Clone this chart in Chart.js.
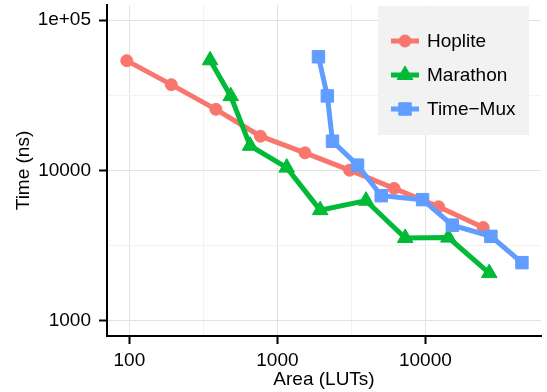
<!DOCTYPE html>
<html>
<head>
<meta charset="utf-8">
<script src="https://cdn.jsdelivr.net/npm/chart.js@4.4.0/dist/chart.umd.min.js"></script>
<style>
  html, body { margin: 0; padding: 0; background: #fff; }
  canvas { display: block; }
</style>
</head>
<body>
<canvas id="areaTime" width="547" height="392"></canvas>
<script>
// area (LUTs) vs time (ns) for each design
var seriesNames = ['Hoplite', 'Marathon', 'Time\u2212Mux'];
var hopliteArea = [96, 192, 384, 768, 1536, 3072, 6144, 12288, 24576];
var hopliteTime = [53700, 37200, 25500, 16900, 13100, 10050, 7600, 5740, 4180];
var marathonArea = [351, 484, 654, 1156, 1945, 3970, 7300, 14300, 27000];
var marathonTime = [54000, 31200, 14600, 10450, 5450, 6300, 3560, 3580, 2080];
var timemuxArea = [1895, 2175, 2356, 3480, 5030, 9570, 15200, 27700, 44900];
var timemuxTime = [57000, 31300, 15650, 10850, 6800, 6400, 4330, 3650, 2440];

var xTicks = [100, 1000, 10000];
var xTickLabels = ['100', '1000', '10000'];
var yTicks = [1000, 10000, 100000];
var yTickLabels = ['1000', '10000', '1e+05'];

var colors = ['#F8766D', '#00BA38', '#619CFF'];
var shapes = ['circle', 'triangle', 'rect'];
var radii = [6, 9, 8.8];
var FONT = "'Liberation Sans', Arial, Helvetica, sans-serif";

function pts(xs, ys) {
    return xs.map(function (x, i) { return { x: x, y: ys[i] }; });
}

// major ticks plus the log-midpoints between them (minor grid)
function withMinor(major) {
    var out = [];
    for (var i = 0; i < major.length; i++) {
        out.push(major[i]);
        if (i < major.length - 1) out.push(Math.sqrt(major[i] * major[i + 1]));
    }
    return out;
}
function isMajor(list, v) {
    return list.some(function (m) { return Math.abs(m - v) / m < 1e-6; });
}

function makeDataset(i, xs, ys) {
    return {
        label: seriesNames[i],
        data: pts(xs, ys),
        order: seriesNames.length - i,   // later series drawn on top
        borderColor: colors[i],
        backgroundColor: colors[i],
        borderWidth: 5,
        tension: 0,
        pointStyle: shapes[i],
        pointRadius: radii[i],
        pointBorderWidth: 1,
        pointBackgroundColor: colors[i],
        pointBorderColor: colors[i]
    };
}

function drawMarker(ctx, style, r, x, y) {
    ctx.beginPath();
    if (style === 'circle') {
        ctx.arc(x, y, r, 0, Math.PI * 2);
    } else if (style === 'rect') {
        var s = r * Math.SQRT1_2;
        ctx.rect(x - s, y - s, 2 * s, 2 * s);
    } else {
        ctx.moveTo(x, y - r);
        ctx.lineTo(x + r * 0.866, y + r / 2);
        ctx.lineTo(x - r * 0.866, y + r / 2);
        ctx.closePath();
    }
    ctx.fill();
    ctx.stroke();
}

// legend box drawn inside the top-right of the plot
var legendBox = {
    id: 'legendBox',
    afterDraw: function (chart) {
        var ctx = chart.ctx;
        ctx.save();
        ctx.fillStyle = '#f2f2f2';
        ctx.fillRect(378, 6, 151, 129);
        for (var i = 0; i < seriesNames.length; i++) {
            var y = 41 + i * 34;
            ctx.strokeStyle = colors[i];
            ctx.fillStyle = colors[i];
            ctx.lineWidth = 5;
            ctx.beginPath();
            ctx.moveTo(391, y);
            ctx.lineTo(419, y);
            ctx.stroke();
            ctx.lineWidth = 1;
            drawMarker(ctx, shapes[i], radii[i], 405, y);
            ctx.fillStyle = '#000';
            ctx.font = '19px ' + FONT;
            ctx.textAlign = 'left';
            ctx.textBaseline = 'middle';
            ctx.fillText(seriesNames[i], 427, y + 1);
        }
        ctx.restore();
    }
};

function axisGrid(major) {
    return {
        color: function (c) { return isMajor(major, c.tick.value) ? '#e2e2e2' : '#f3f3f3'; },
        lineWidth: 1,
        tickLength: 8,
        tickWidth: 2,
        tickColor: function (c) { return isMajor(major, c.tick.value) ? '#000' : 'rgba(0,0,0,0)'; }
    };
}

new Chart(document.getElementById('areaTime').getContext('2d'), {
    type: 'line',
    data: {
        datasets: [
            makeDataset(0, hopliteArea, hopliteTime),
            makeDataset(1, marathonArea, marathonTime),
            makeDataset(2, timemuxArea, timemuxTime)
        ]
    },
    options: {
        responsive: false,
        animation: false,
        layout: { autoPadding: false, padding: { top: 5, right: 6, left: 0, bottom: 0 } },
        plugins: { legend: { display: false }, tooltip: { enabled: false } },
        scales: {
            x: {
                type: 'logarithmic',
                position: 'bottom',
                min: 70.6,
                max: 60400,
                afterBuildTicks: function (s) {
                    s.ticks = withMinor(xTicks).map(function (v) { return { value: v }; });
                },
                afterFit: function (s) {
                    s.height = 56;
                    s.paddingLeft = 0;
                    s.paddingRight = 0;
                },
                grid: axisGrid(xTicks),
                border: { display: true, color: '#000', width: 2 },
                ticks: {
                    autoSkip: false,
                    maxRotation: 0,
                    padding: 5,
                    color: '#000',
                    font: { family: FONT, size: 19 },
                    callback: function (v) {
                        var k = xTicks.findIndex(function (m) { return Math.abs(m - v) / m < 1e-6; });
                        return k < 0 ? '' : xTickLabels[k];
                    }
                },
                title: {
                    display: true,
                    text: 'Area (LUTs)',
                    color: '#000',
                    font: { family: FONT, size: 19 },
                    padding: { top: 0, bottom: 1 }
                }
            },
            y: {
                type: 'logarithmic',
                position: 'left',
                min: 794,
                max: 125900,
                afterBuildTicks: function (s) {
                    s.ticks = withMinor(yTicks).map(function (v) { return { value: v }; });
                },
                afterFit: function (s) {
                    s.width = 107;
                    s.paddingTop = 0;
                    s.paddingBottom = 0;
                },
                grid: axisGrid(yTicks),
                border: { display: true, color: '#000', width: 2 },
                ticks: {
                    autoSkip: false,
                    padding: 8,
                    color: '#000',
                    font: { family: FONT, size: 19 },
                    callback: function (v) {
                        var k = yTicks.findIndex(function (m) { return Math.abs(m - v) / m < 1e-6; });
                        return k < 0 ? '' : yTickLabels[k];
                    }
                },
                title: {
                    display: true,
                    text: 'Time (ns)',
                    color: '#000',
                    font: { family: FONT, size: 19 },
                    padding: { top: 12, bottom: 0 }
                }
            }
        }
    },
    plugins: [legendBox]
});
</script>
</body>
</html>
